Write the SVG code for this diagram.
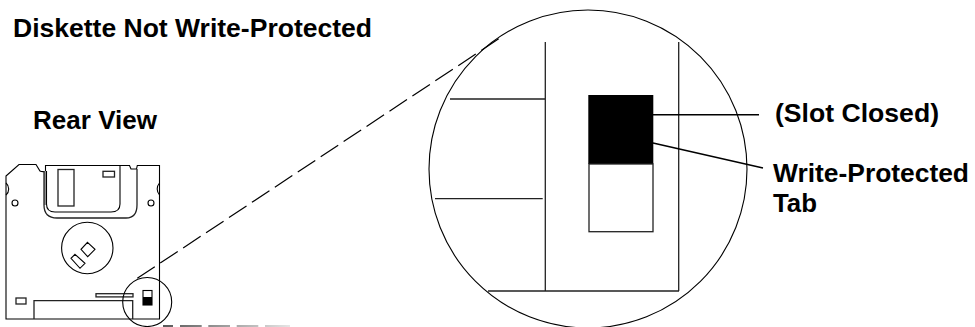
<svg xmlns="http://www.w3.org/2000/svg" width="975" height="327" viewBox="0 0 975 327">
<style>
.l{fill:none;stroke:#000;stroke-width:1.100}
.m{fill:none;stroke:#222;stroke-width:1.300}
.t{font-family:"Liberation Sans",Arial,sans-serif;font-size:25px;font-weight:bold;fill:#000}
</style>
<defs>
<linearGradient id="fade" gradientUnits="userSpaceOnUse" x1="163" y1="326" x2="290" y2="326">
<stop offset="0" stop-color="#222"/><stop offset="1" stop-color="#ddd"/>
</linearGradient>
</defs>
<rect width="975" height="327" fill="#fff"/>
<g id="titles">
<text class="t" x="13" y="37" textLength="359" lengthAdjust="spacingAndGlyphs">Diskette Not Write-Protected</text>
<text class="t" x="33" y="129" textLength="124" lengthAdjust="spacingAndGlyphs">Rear View</text>
</g>
<g id="diskette">
<path class="l" d="M6 176L19 164.500H36L40 171Q41.500 172 45.500 171.500V165.500H129.500L131 169H136.500L137.300 165.500H159.500V319H6Z"/>
<path class="l" d="M6 183A8 8 0 0 1 6 195M159.500 183A9 9 0 0 0 159.500 195"/>
<circle class="l" cx="15" cy="203" r="3"/><circle class="l" cx="151" cy="203" r="3"/>
<rect x="44" y="171" width="2" height="34" fill="#999"/>
<path class="m" d="M44 171V205Q44 218 57 218H126Q137 218 137 205V169"/>
<path class="l" d="M46.500 171V204Q46.500 212 55 212H111Q120 212 120 204V165.500"/>
<rect class="m" x="58" y="169.500" width="16" height="36.500"/>
<rect class="m" x="103" y="171.300" width="11.500" height="5.700"/>
<circle class="l" cx="87.300" cy="248" r="25.700"/>
<path class="l" d="M87.500 242.300L95 249.300L87.700 256.700L81 249.300ZM75 254.300L85 263.300L80 268.300L71 258.300Z"/>
<rect class="m" x="96" y="293.700" width="37" height="3.200"/>
<rect class="m" x="16" y="298" width="10" height="6"/>
<path class="m" d="M34 319V300.700H132.700V319"/>
<rect class="l" x="143" y="290.500" width="9" height="14.500"/>
<rect x="143" y="297" width="9" height="8" fill="#000"/>
<circle class="l" cx="147.200" cy="302" r="24.500"/>
</g>
<g id="magnified">
<circle class="l" cx="588" cy="169" r="159"/>
<path class="m" d="M545.300 42V291M678.700 42V291M488 291H679M450 99H545.300M435 198.700H542.700"/>
<rect x="588.300" y="95" width="65" height="69" fill="#000"/>
<rect class="m" x="589" y="164" width="64" height="67.700"/>
</g>
<g id="connectors">
<path d="M137.300 278.300L501.500 37" fill="none" stroke="#000" stroke-width="1.200" stroke-dasharray="21 6.500"/>
<path d="M163 326H173M180 326H201.700M208.300 326H230M236.700 326H258.300M265 326H290" fill="none" stroke="url(#fade)" stroke-width="1.300"/>
<path d="M653 114.700H759M653 143L763 168" fill="none" stroke="#000" stroke-width="1.500"/>
</g>
<g id="labels">
<text class="t" x="775" y="122" textLength="164" lengthAdjust="spacingAndGlyphs">(Slot Closed)</text>
<text class="t" x="773" y="182" textLength="196" lengthAdjust="spacingAndGlyphs">Write-Protected</text>
<text class="t" x="773" y="212" textLength="44" lengthAdjust="spacingAndGlyphs">Tab</text>
</g>
</svg>
